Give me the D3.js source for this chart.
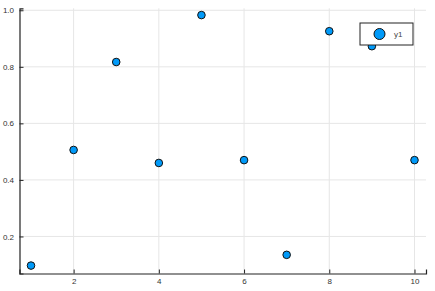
<!DOCTYPE html>
<html>
<head>
<meta charset="utf-8">
<script src="https://cdn.jsdelivr.net/npm/d3@7"></script>
<style>
  body { margin: 0; background: #fff; }
  svg { display: block; font-family: "Liberation Sans", Arial, sans-serif; }
</style>
</head>
<body>
<svg id="chart" width="435" height="291"></svg>
<script>
// data
const xs = [1, 2, 3, 4, 5, 6, 7, 8, 9, 10];
const ys = [0.097, 0.506, 0.817, 0.460, 0.983, 0.470, 0.135, 0.926, 0.873, 0.470];
const xTicks = [2, 4, 6, 8, 10];
const yTicks = [0.2, 0.4, 0.6, 0.8, 1.0];
const seriesName = "y1";

const svg = d3.select("#chart");

// Plots.jl pads the data range by 3% on each side
const x = d3.scaleLinear().domain([0.73, 10.27]).range([19.5, 426]);
const y = d3.scaleLinear().domain([0.069, 1.007]).range([273.5, 8.3]);

// grid
svg.append("g").selectAll("line")
  .data(xTicks).join("line")
  .attr("x1", d => x(d)).attr("x2", d => x(d))
  .attr("y1", y.range()[0]).attr("y2", y.range()[1])
  .attr("stroke", "#e6e6e6").attr("stroke-width", 1);
svg.append("g").selectAll("line")
  .data(yTicks).join("line")
  .attr("x1", x.range()[0]).attr("x2", x.range()[1])
  .attr("y1", d => y(d)).attr("y2", d => y(d))
  .attr("stroke", "#e6e6e6").attr("stroke-width", 1);

// axes (ticks point inward like GR)
const xAxis = svg.append("g")
  .attr("transform", `translate(0,${y.range()[0]})`)
  .call(d3.axisBottom(x).tickValues(xTicks).tickSize(-4).tickPadding(5).tickFormat(d3.format("d")));
const yAxis = svg.append("g")
  .attr("transform", `translate(${x.range()[0]},0)`)
  .call(d3.axisLeft(y).tickValues(yTicks).tickSize(-4).tickPadding(5.5).tickFormat(d3.format(".1f")));

[xAxis, yAxis].forEach(a => {
  a.select(".domain").attr("stroke", "#222").attr("stroke-width", 1.2);
  a.selectAll(".tick line").attr("stroke", "#222");
  a.selectAll("text").attr("fill", "#333").style("font-size", "8px");
});

// points
svg.append("g").selectAll("circle")
  .data(xs.map((v, i) => ({ x: v, y: ys[i] })))
  .join("circle")
  .attr("cx", d => x(d.x))
  .attr("cy", d => y(d.y))
  .attr("r", 3.8)
  .attr("fill", "#009af9")
  .attr("stroke", "#111")
  .attr("stroke-width", 1);

// legend
const legend = svg.append("g").attr("transform", "translate(360,23)");
legend.append("rect")
  .attr("width", 53).attr("height", 22)
  .attr("fill", "#fff").attr("stroke", "#222").attr("stroke-width", 1);
legend.append("circle")
  .attr("cx", 19.5).attr("cy", 11).attr("r", 5.5)
  .attr("fill", "#009af9").attr("stroke", "#111").attr("stroke-width", 1);
legend.append("text")
  .attr("x", 34).attr("y", 14)
  .attr("fill", "#444").style("font-size", "8px")
  .text(seriesName);
</script>
</body>
</html>
